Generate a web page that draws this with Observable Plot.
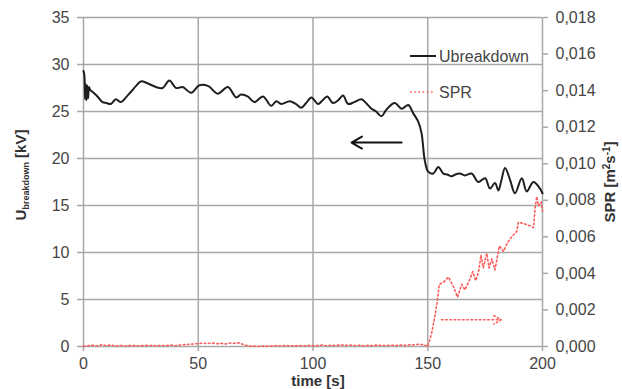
<!DOCTYPE html>
<html>
<head>
<meta charset="utf-8">
<script src="https://cdn.jsdelivr.net/npm/d3@7"></script>
<script src="https://cdn.jsdelivr.net/npm/@observablehq/plot@0.6"></script>
<style>
  html, body { margin: 0; padding: 0; background: #fff; }
  svg { display: block; }
</style>
</head>
<body>
<div id="chart"></div>
<script>
// ---- data ----
const uTime = [0, 0.4, 0.7, 1.0, 1.3, 1.6, 2.0, 2.4, 2.9, 3.9, 6.1, 8.3, 10, 11.9, 14.1, 16.3, 18.5, 20.7, 22.8, 25, 27.9, 31.6, 34.5, 37.4, 40.3, 43.2, 46.9, 50.5, 54.4, 58.5, 62.9, 66.5, 68.7, 71.5, 74.5, 78.2, 81.8, 84, 86.2, 89.8, 92.5, 94.9, 97, 99.3, 102.2, 104.2, 106.2, 108.7, 111, 113.1, 115.3, 118, 121.1, 123.5, 125.5, 127.5, 129.8, 132, 135.6, 138.6, 141.5, 143.7, 145.9, 147.3, 148.7, 150.2, 152.4, 154.6, 156.8, 158.5, 160.4, 162, 164, 166.2, 169.1, 172, 175, 177.1, 179.3, 180.8, 182, 183.7, 185.9, 188, 191, 193.1, 196, 198.3, 200];
const uBreakdown = [29.3, 28.8, 26.3, 27.9, 26.2, 27.8, 26.4, 27.6, 27.3, 27.1, 26.6, 26.0, 25.9, 25.8, 26.3, 26.0, 26.5, 27.1, 27.7, 28.2, 28.0, 27.6, 27.5, 28.3, 27.5, 27.6, 27.0, 27.8, 27.7, 26.9, 27.6, 26.5, 26.8, 26.6, 26.0, 26.6, 25.6, 26.1, 25.8, 26.1, 25.8, 25.4, 25.9, 26.5, 25.8, 26.2, 26.6, 25.9, 26.2, 26.7, 25.8, 26.0, 26.3, 25.8, 25.3, 25.0, 24.5, 25.2, 25.9, 25.3, 25.7, 24.8, 23.9, 22.7, 19.8, 18.6, 18.4, 19.1, 18.4, 18.3, 18.1, 18.3, 18.4, 18.2, 18.4, 17.5, 17.9, 16.8, 17.4, 16.6, 17.6, 19.0, 17.7, 16.3, 17.9, 16.5, 17.5, 17.0, 16.3];

const sprTime = [0, 2, 4, 6, 8, 10, 12, 14, 16, 18, 20, 22, 24, 26, 28, 30, 32, 34, 36, 38, 40, 42, 44, 46, 48, 50, 52, 54, 56, 58, 60, 62, 64, 66, 68, 70, 72, 74, 76, 78, 80, 82, 84, 86, 88, 90, 92, 94, 96, 98, 100, 102, 104, 106, 108, 110, 112, 114, 116, 118, 120, 122, 124, 126, 128, 130, 132, 134, 136, 138, 140, 142, 144, 146, 148, 150, 151.7, 153.1, 154.3, 155, 156.8, 159, 161.1, 163, 164.8, 166.2, 168.4, 169.6, 170.9, 172.3, 173.2, 174.2, 175.7, 176.7, 177.9, 179.3, 181.2, 183, 184.8, 186.6, 188.8, 189.5, 192.4, 194.6, 196.1, 196.8, 197.5, 198.2, 199.4, 200];
const spr = [0.00002, 0.00004, 0.00007, 0.00003, 0.00010, 0.00004, 0.00009, 0.00002, 0.00006, 0.00003, 0.00005, 0.00005, 0.00004, 0.00005, 0.00006, 0.00005, 0.00004, 0.00006, 0.00005, 0.00008, 0.00004, 0.00008, 0.00010, 0.00012, 0.00014, 0.00016, 0.00018, 0.00016, 0.00019, 0.00015, 0.00017, 0.00014, 0.00019, 0.00017, 0.00020, 0.00008, 0.00003, 0.00002, 0.00001, 0.00002, 0.00003, 0.00002, 0.00005, 0.00003, 0.00006, 0.00004, 0.00003, 0.00005, 0.00003, 0.00007, 0.00003, 0.00005, 0.00008, 0.00004, 0.00007, 0.00005, 0.00009, 0.00006, 0.00008, 0.00005, 0.00007, 0.00004, 0.00006, 0.00004, 0.00008, 0.00006, 0.00005, 0.00007, 0.00005, 0.00008, 0.00006, 0.00009, 0.00010, 0.00012, 0.00010, 0.00000, 0.00073, 0.00164, 0.0026, 0.0034, 0.0035, 0.0038, 0.0033, 0.0027, 0.0034, 0.0031, 0.0037, 0.0041, 0.0036, 0.0042, 0.0050, 0.0043, 0.0051, 0.0043, 0.0048, 0.0042, 0.0055, 0.0052, 0.0057, 0.0060, 0.0063, 0.0068, 0.0067, 0.0066, 0.0065, 0.0076, 0.0082, 0.0077, 0.0079, 0.0074];

const xTicks = [0, 50, 100, 150, 200];
const yTicks = [0, 5, 10, 15, 20, 25, 30, 35];
const sprTicks = [0, 0.002, 0.004, 0.006, 0.008, 0.010, 0.012, 0.014, 0.016, 0.018];

// annotation arrows: [x1, x2, y, axis]
const arrowX1 = [138.6, 156];
const arrowX2 = [116.8, 182];
const arrowY = [21.7, 0.00146];      // first in kV, second in SPR units
const arrowAxis = ["kV", "spr"];

// ---- build ----
const K = 35 / 0.018; // SPR -> left axis units
const uData = uTime.map((t, i) => ({t, v: uBreakdown[i]}));
const sprData = sprTime.map((t, i) => ({t, v: spr[i] * K}));
const arrows = arrowX1.map((x1, i) => ({
  x1, x2: arrowX2[i],
  y: arrowAxis[i] === "spr" ? arrowY[i] * K : arrowY[i],
  axis: arrowAxis[i]
}));
const fmtSpr = v => d3.format(".3f")(Math.round(v / K * 1000) / 1000).replace(".", ",");

const grid = "#a8a8a8";
const textCol = "#454545";
const red = "#ff5a5a";
const dots = "1.6,2.6";

const svg = Plot.plot({
  width: 622,
  height: 389,
  marginLeft: 83,
  marginRight: 80,
  marginTop: 17,
  marginBottom: 43,
  x: {domain: [0, 200]},
  y: {domain: [0, 35]},
  style: {fontFamily: "'Liberation Sans', Arial, sans-serif", fontSize: "16px", color: textCol, background: "#fff"},
  marks: [
    Plot.ruleY(yTicks, {stroke: grid, strokeWidth: 1.5}),
    Plot.ruleX(xTicks, {stroke: grid, strokeWidth: 1.5}),
    Plot.axisY(yTicks, {anchor: "left", tickSize: 6, tickPadding: 8, stroke: grid, strokeWidth: 1.5, label: null, fill: textCol}),
    Plot.axisY(sprTicks.map(v => v * K), {anchor: "right", tickSize: 5, tickPadding: 8, stroke: grid, strokeWidth: 1.5, tickFormat: fmtSpr, label: null, fill: textCol}),
    Plot.axisX(xTicks, {anchor: "bottom", tickSize: 5, tickPadding: 6, stroke: grid, strokeWidth: 1.5, label: null, fill: textCol}),
    Plot.line(sprData, {x: "t", y: "v", stroke: red, strokeWidth: 1.6, strokeDasharray: dots}),
    Plot.line(uData, {x: "t", y: "v", stroke: "#1e1e1e", strokeWidth: 2, curve: "catmull-rom"}),
    Plot.arrow(arrows.filter(a => a.axis === "kV"), {x1: "x1", x2: "x2", y1: "y", y2: "y", stroke: "#111", strokeWidth: 2, headLength: 9, bend: 0}),
    Plot.arrow(arrows.filter(a => a.axis === "spr"), {x1: "x1", x2: "x2", y1: "y", y2: "y", stroke: red, strokeWidth: 1.6, strokeDasharray: dots, headLength: 8, bend: 0})
  ]
});

const s = d3.select(svg);
// left axis title with subscript
const lt = s.append("text")
  .attr("transform", "translate(26,175) rotate(-90)")
  .attr("text-anchor", "middle")
  .attr("font-weight", "bold")
  .attr("font-size", 15)
  .attr("fill", "#333");
lt.append("tspan").text("U");
lt.append("tspan").attr("font-size", 9).attr("dy", 3).text("breakdown");
lt.append("tspan").attr("dy", -3).text(" [kV]");

// right axis title
const rt = s.append("text")
  .attr("transform", "translate(615,182) rotate(-90)")
  .attr("text-anchor", "middle")
  .attr("font-weight", "bold")
  .attr("font-size", 15)
  .attr("fill", "#333");
rt.append("tspan").text("SPR [m");
rt.append("tspan").attr("font-size", 10).attr("dy", -5).text("2");
rt.append("tspan").attr("dy", 5).text("s");
rt.append("tspan").attr("font-size", 10).attr("dy", -5).text("-1");
rt.append("tspan").attr("dy", 5).text("]");

// x axis title
s.append("text")
  .attr("x", 318).attr("y", 386)
  .attr("text-anchor", "middle")
  .attr("font-weight", "bold")
  .attr("font-size", 15)
  .attr("fill", "#333")
  .text("time [s]");

// legend
const lg = s.append("g").attr("font-size", 16).attr("fill", textCol).attr("text-anchor", "start");
lg.append("line").attr("x1", 410).attr("x2", 436).attr("y1", 56).attr("y2", 56).attr("stroke", "#1e1e1e").attr("stroke-width", 2);
lg.append("text").attr("x", 439).attr("y", 56).attr("dy", "0.35em").text("Ubreakdown");
lg.append("line").attr("x1", 410).attr("x2", 434).attr("y1", 92).attr("y2", 92).attr("stroke", red).attr("stroke-width", 1.6).attr("stroke-dasharray", dots);
lg.append("text").attr("x", 439).attr("y", 92).attr("dy", "0.35em").text("SPR");

document.getElementById("chart").appendChild(svg);
</script>
</body>
</html>
